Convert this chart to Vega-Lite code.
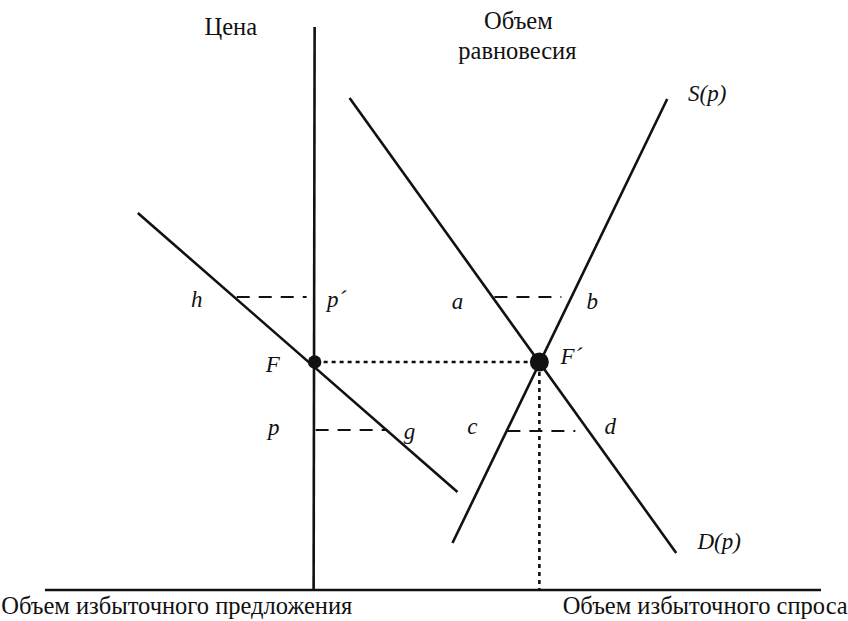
{
  "$schema": "https://vega.github.io/schema/vega-lite/v6.json",
  "width": 848,
  "height": 621,
  "autosize": {"type": "fit", "contains": "padding"},
  "padding": 0,
  "background": "white",
  "config": {"view": {"stroke": null}},
  "datasets": {
    "segs": [
      {"name": "price axis", "kind": "solid", "x1": 315, "y1": 27, "x2": 314, "y2": 590},
      {"name": "quantity axis", "kind": "solid", "x1": 45, "y1": 590, "x2": 822, "y2": 590},
      {"name": "excess supply", "kind": "solid", "x1": 138, "y1": 213, "x2": 458, "y2": 492},
      {"name": "D(p)", "kind": "solid", "x1": 350, "y1": 98, "x2": 677, "y2": 553},
      {"name": "S(p)", "kind": "solid", "x1": 453, "y1": 543, "x2": 668, "y2": 99},
      {"name": "h-p'", "kind": "dashed", "x1": 237, "y1": 297, "x2": 307, "y2": 297},
      {"name": "a-b", "kind": "dashed", "x1": 495, "y1": 297, "x2": 562, "y2": 297},
      {"name": "p-g", "kind": "dashed", "x1": 316, "y1": 430, "x2": 388, "y2": 430},
      {"name": "c-d", "kind": "dashed", "x1": 508, "y1": 431, "x2": 576, "y2": 431},
      {"name": "F-F'", "kind": "dotted", "x1": 316, "y1": 362, "x2": 540, "y2": 362},
      {"name": "F' down", "kind": "dotted", "x1": 540, "y1": 364, "x2": 540, "y2": 590}
    ],
    "pts": [
      {"name": "F", "x": 315, "y": 362, "r": 45},
      {"name": "F'", "x": 540, "y": 362, "r": 90}
    ],
    "labels": [
      {"label": "Цена", "x": 231, "y": 28, "style": "normal"},
      {"label": "Объем", "x": 519, "y": 22, "style": "normal"},
      {"label": "равновесия", "x": 518, "y": 52, "style": "normal"},
      {"label": "Объем избыточного предложения", "x": 177, "y": 607, "style": "normal"},
      {"label": "Объем избыточного спроса", "x": 706, "y": 607, "style": "normal"},
      {"label": "h", "x": 197, "y": 300, "style": "italic"},
      {"label": "p´", "x": 337, "y": 300, "style": "italic"},
      {"label": "a", "x": 458, "y": 302, "style": "italic"},
      {"label": "b", "x": 593, "y": 302, "style": "italic"},
      {"label": "F", "x": 273, "y": 365, "style": "italic"},
      {"label": "F´", "x": 572, "y": 357, "style": "italic"},
      {"label": "p", "x": 274, "y": 428, "style": "italic"},
      {"label": "g", "x": 410, "y": 432, "style": "italic"},
      {"label": "c", "x": 473, "y": 427, "style": "italic"},
      {"label": "d", "x": 611, "y": 427, "style": "italic"},
      {"label": "S(p)", "x": 708, "y": 94, "style": "italic"},
      {"label": "D(p)", "x": 720, "y": 542, "style": "italic"}
    ]
  },
  "layer": [
    {
      "data": {"name": "segs"},
      "transform": [{"filter": "datum.kind === 'solid'"}],
      "mark": {"type": "rule", "color": "#111", "strokeWidth": 2.6, "strokeCap": "butt"},
      "encoding": {
        "x": {"field": "x1", "type": "quantitative", "scale": {"domain": [0, 848], "nice": false, "zero": false}, "axis": null},
        "y": {"field": "y1", "type": "quantitative", "scale": {"domain": [0, 621], "nice": false, "zero": false, "reverse": true}, "axis": null},
        "x2": {"field": "x2"},
        "y2": {"field": "y2"}
      }
    },
    {
      "data": {"name": "segs"},
      "transform": [{"filter": "datum.kind === 'dashed'"}],
      "mark": {"type": "rule", "color": "#111", "strokeWidth": 2.2, "strokeDash": [13, 9], "strokeCap": "butt"},
      "encoding": {
        "x": {"field": "x1", "type": "quantitative", "scale": {"domain": [0, 848], "nice": false, "zero": false}, "axis": null},
        "y": {"field": "y1", "type": "quantitative", "scale": {"domain": [0, 621], "nice": false, "zero": false, "reverse": true}, "axis": null},
        "x2": {"field": "x2"},
        "y2": {"field": "y2"}
      }
    },
    {
      "data": {"name": "segs"},
      "transform": [{"filter": "datum.kind === 'dotted'"}],
      "mark": {"type": "rule", "color": "#111", "strokeWidth": 2.6, "strokeDash": [4, 4], "strokeCap": "butt"},
      "encoding": {
        "x": {"field": "x1", "type": "quantitative", "scale": {"domain": [0, 848], "nice": false, "zero": false}, "axis": null},
        "y": {"field": "y1", "type": "quantitative", "scale": {"domain": [0, 621], "nice": false, "zero": false, "reverse": true}, "axis": null},
        "x2": {"field": "x2"},
        "y2": {"field": "y2"}
      }
    },
    {
      "data": {"name": "pts"},
      "mark": {"type": "circle", "color": "#111", "opacity": 1},
      "encoding": {
        "x": {"field": "x", "type": "quantitative", "scale": {"domain": [0, 848], "nice": false, "zero": false}, "axis": null},
        "y": {"field": "y", "type": "quantitative", "scale": {"domain": [0, 621], "nice": false, "zero": false, "reverse": true}, "axis": null},
        "size": {"field": "r", "type": "quantitative", "scale": {"type": "identity"}, "legend": null}
      }
    },
    {
      "data": {"name": "labels"},
      "transform": [{"filter": "datum.style === 'normal'"}],
      "mark": {"type": "text", "font": "Liberation Serif", "fontSize": 24.5, "color": "#111", "align": "center", "baseline": "middle"},
      "encoding": {
        "x": {"field": "x", "type": "quantitative", "scale": {"domain": [0, 848], "nice": false, "zero": false}, "axis": null},
        "y": {"field": "y", "type": "quantitative", "scale": {"domain": [0, 621], "nice": false, "zero": false, "reverse": true}, "axis": null},
        "text": {"field": "label"}
      }
    },
    {
      "data": {"name": "labels"},
      "transform": [{"filter": "datum.style === 'italic'"}],
      "mark": {"type": "text", "font": "Liberation Serif", "fontStyle": "italic", "fontSize": 23, "color": "#111", "align": "center", "baseline": "middle"},
      "encoding": {
        "x": {"field": "x", "type": "quantitative", "scale": {"domain": [0, 848], "nice": false, "zero": false}, "axis": null},
        "y": {"field": "y", "type": "quantitative", "scale": {"domain": [0, 621], "nice": false, "zero": false, "reverse": true}, "axis": null},
        "text": {"field": "label"}
      }
    }
  ]
}
